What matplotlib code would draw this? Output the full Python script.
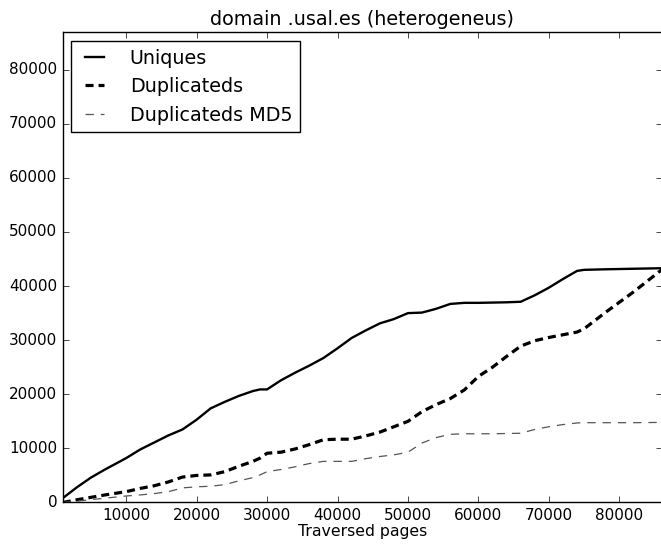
import matplotlib
matplotlib.use('Agg')
import matplotlib.pyplot as plt

plt.style.use('classic')

# traversed pages (x) and counts
pages = [1000, 3000, 5000, 7000, 10000, 12000, 14000, 16000, 18000, 20000,
         22000, 24000, 26000, 28000, 29000, 30000, 32000, 34000, 36000, 38000,
         40000, 42000, 44000, 46000, 48000, 50000, 52000, 54000, 56000, 58000,
         60000, 62000, 64000, 66000, 68000, 70000, 72000, 74000, 75000, 78000,
         82000, 86000]
uniques = [800, 2800, 4600, 6100, 8200, 9800, 11100, 12400, 13500, 15300,
           17400, 18600, 19700, 20600, 20900, 20900, 22600, 24000, 25300, 26700,
           28500, 30400, 31800, 33100, 33900, 35000, 35100, 35800, 36700, 36900,
           36900, 36950, 37000, 37100, 38300, 39700, 41300, 42800, 43000, 43100,
           43200, 43300]
duplicateds = [0, 500, 950, 1400, 2000, 2600, 3100, 3800, 4700, 5000,
               5100, 5700, 6700, 7600, 8200, 9100, 9300, 9900, 10700, 11600,
               11700, 11700, 12300, 13000, 14000, 15000, 16800, 18100, 19200, 20800,
               23300, 25000, 27000, 28900, 29900, 30500, 31000, 31500, 32100, 35100,
               38900, 43000]
dup_md5 = [0, 250, 520, 800, 1200, 1400, 1650, 2000, 2700, 2900,
           3000, 3300, 4000, 4600, 5100, 5700, 6100, 6600, 7200, 7600,
           7600, 7600, 8100, 8500, 8800, 9300, 11000, 12000, 12600, 12700,
           12700, 12700, 12750, 12800, 13500, 14000, 14400, 14700, 14750, 14750,
           14750, 14800]

fig = plt.figure(figsize=(6.61, 5.44), dpi=100)
fig.patch.set_facecolor('white')
ax = fig.add_axes([0.0949, 0.0763, 0.906, 0.8643])

ax.plot(pages, uniques, color='black', lw=1.7, ls='-', label='Uniques')
ax.plot(pages, duplicateds, color='black', lw=2.3, dashes=(5.8, 3.6), label='Duplicateds')
ax.plot(pages, dup_md5, color='#555555', lw=0.9, dashes=(6.0, 5.0), label='Duplicateds MD5')

ax.set_xlim(1000, 86000)
ax.set_ylim(0, 86900)
ax.set_xticks([10000, 20000, 30000, 40000, 50000, 60000, 70000, 80000])
ax.set_yticks([0, 10000, 20000, 30000, 40000, 50000, 60000, 70000, 80000])
ax.tick_params(labelsize=11, direction='in', length=4, top=True, right=True)
ax.set_xlabel('Traversed pages', fontsize=11.3, labelpad=1)
ax.set_title('domain .usal.es (heterogeneus)', fontsize=13.8)

leg = ax.legend(loc='upper left', fontsize=13.8, handlelength=1.6,
                handletextpad=1.05, labelspacing=0.5, borderpad=0.4,
                borderaxespad=0.45, fancybox=False)
leg.get_frame().set_edgecolor('black')

fig.savefig('out.png', dpi=100, facecolor='white')
